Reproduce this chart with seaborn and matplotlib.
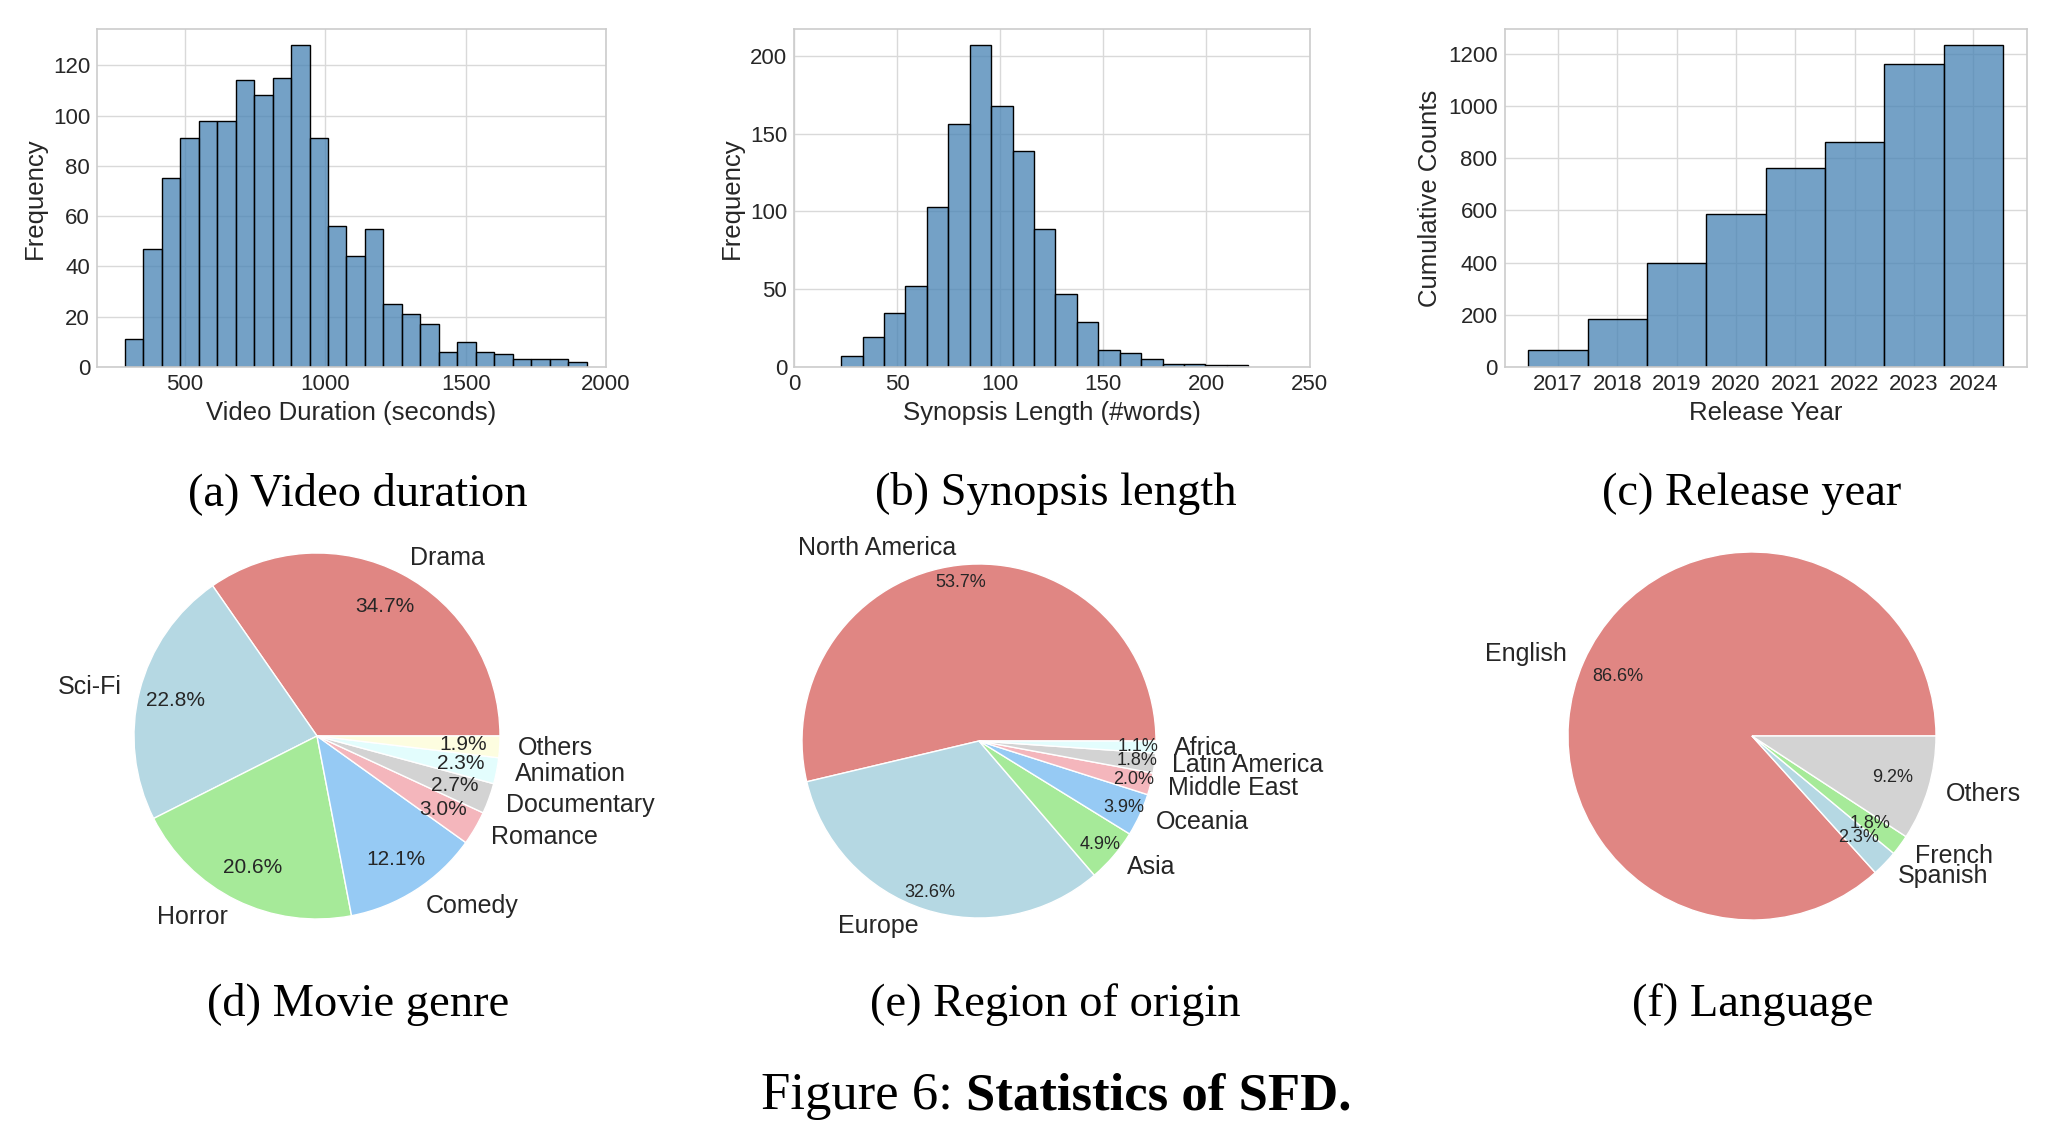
import numpy as np
import pandas as pd
import matplotlib
matplotlib.use("Agg")
import matplotlib.pyplot as plt
import seaborn as sns

# ---------------- data ----------------
# (a) video duration histogram (25 equal bins)
dur_bin_lo, dur_bin_hi = 286, 1931
dur_counts = [11, 47, 75, 91, 98, 98, 114, 108, 115, 128, 91, 56, 44, 55,
              25, 21, 17, 6, 10, 6, 5, 3, 3, 3, 2]
dur_xticks = [500, 1000, 1500, 2000]

# (b) synopsis length histogram (19 equal bins)
syn_bin_lo, syn_bin_hi = 22.9, 220.3
syn_counts = [7, 19, 35, 52, 103, 156, 207, 168, 139, 89, 47, 29, 11, 9, 5, 2, 2, 1, 1]
syn_xticks = [0, 50, 100, 150, 200, 250]

# (c) release year cumulative counts
years = [2017, 2018, 2019, 2020, 2021, 2022, 2023, 2024]
cum_counts = [64, 184, 398, 587, 763, 864, 1160, 1234]

# (d) movie genre
genres = ["Drama", "Sci-Fi", "Horror", "Comedy", "Romance", "Documentary", "Animation", "Others"]
genre_pct = [34.7, 22.8, 20.6, 12.1, 3.0, 2.7, 2.3, 1.9]

# (e) region of origin
regions = ["North America", "Europe", "Asia", "Oceania", "Middle East", "Latin America", "Africa"]
region_pct = [53.7, 32.6, 4.9, 3.9, 2.0, 1.8, 1.1]

# (f) language
languages = ["English", "Spanish", "French", "Others"]
language_pct = [86.6, 2.3, 1.8, 9.2]

sub_captions = ["(a) Video duration", "(b) Synopsis length", "(c) Release year",
                "(d) Movie genre", "(e) Region of origin", "(f) Language"]

# ---------------- style ----------------
sns.set_theme(style="whitegrid")
plt.rcParams["font.family"] = ["Liberation Sans", "DejaVu Sans"]
plt.rcParams["axes.edgecolor"] = "0.8"
plt.rcParams["grid.color"] = "0.85"

W, H = 2060, 1132
fig = plt.figure(figsize=(W / 100, H / 100), dpi=100)


def px_axes(x0, y0, x1, y1):
    return fig.add_axes([x0 / W, 1 - y1 / H, (x1 - x0) / W, (y1 - y0) / H])


BAR = dict(color="steelblue", edgecolor="black", alpha=0.75, linewidth=1.0)
TICK_FS = 16
LAB_FS = 18.5


def hist_from_counts(ax, lo, hi, counts):
    n = len(counts)
    step = (hi - lo) / n
    df = pd.DataFrame({"x": [lo + step * (i + 0.5) for i in range(n)], "w": counts})
    sns.histplot(data=df, x="x", weights="w", bins=n, binrange=(lo, hi), ax=ax, **BAR)


# (a)
ax = px_axes(97, 29, 606, 367)
hist_from_counts(ax, dur_bin_lo, dur_bin_hi, dur_counts)
ax.set_xlim(187, 2000)
ax.set_xticks(dur_xticks)
ax.set_xlabel("Video Duration (seconds)", fontsize=LAB_FS)
ax.set_ylabel("Frequency", fontsize=LAB_FS)

# (b)
ax = px_axes(794, 29, 1309.5, 367)
hist_from_counts(ax, syn_bin_lo, syn_bin_hi, syn_counts)
ax.set_xlim(0, 250)
ax.set_xticks(syn_xticks)
ax.set_xlabel("Synopsis Length (#words)", fontsize=LAB_FS)
ax.set_ylabel("Frequency", fontsize=LAB_FS)

# (c)
ax = px_axes(1504.5, 29, 2026.7, 367)
dfy = pd.DataFrame({"year": years, "n": cum_counts})
sns.histplot(data=dfy, x="year", weights="n", discrete=True, ax=ax, **BAR)
ax.set_xticks(years)
ax.set_xticklabels([str(y) for y in years])
ax.set_xlabel("Release Year", fontsize=LAB_FS)
ax.set_ylabel("Cumulative Counts", fontsize=LAB_FS)

for a in fig.axes:
    a.tick_params(labelsize=TICK_FS, length=0, pad=5)
    for s in a.spines.values():
        s.set_color("0.8")
        s.set_linewidth(1.2)

# pies
pie_cols_d = ["#E08683", "#B5D8E3", "#A6EA99", "#96CAF4", "#F4B6BC", "#D3D3D3", "#E3FDFD", "#FDFDE0"]
pie_cols_e = ["#E08683", "#B5D8E3", "#A6EA99", "#96CAF4", "#F4B6BC", "#D3D3D3", "#E3FDFD"]
pie_cols_f = ["#E08683", "#B5D8E3", "#A6EA99", "#D3D3D3"]


def draw_pie(cx, cy, r, vals, labels, cols, pctd, pct_fs):
    ax = px_axes(cx - r, cy - r, cx + r, cy + r)
    total = sum(vals)
    ax.pie(vals, labels=labels, colors=cols,
           autopct=lambda p: f"{p * total / 100:.1f}%", pctdistance=pctd,
           labeldistance=1.1, startangle=0,
           textprops=dict(fontsize=18, color="0.15"))
    ax.set_xlim(-1, 1)
    ax.set_ylim(-1, 1)
    ax.set_aspect("equal")
    for t in ax.texts:
        if t.get_text().endswith("%"):
            t.set_fontsize(pct_fs)
    ax.axis("off")


draw_pie(317, 736, 183, genre_pct, genres, pie_cols_d, 0.8, 15)
draw_pie(979, 741, 177, region_pct, regions, pie_cols_e, 0.9, 13)
draw_pie(1752, 736, 184, language_pct, languages, pie_cols_f, 0.8, 13)

# captions
serif = ["Liberation Serif", "DejaVu Serif"]
cap_pos = [(358, 505), (1056, 505), (1752, 505), (358, 1016), (1055, 1016), (1753, 1016)]
for (cx, by), txt in zip(cap_pos, sub_captions):
    fig.text(cx / W, 1 - by / H, txt, ha="center", va="baseline", fontsize=33.5,
             family=serif, color="black")

t1 = fig.text(0, 1 - 1109 / H, "Figure 6: ", ha="left", va="baseline", fontsize=38,
              family=serif, color="black")
t2 = fig.text(0, 1 - 1109 / H, "Statistics of SFD.", ha="left", va="baseline", fontsize=38,
              family=serif, weight="bold", color="black")
fig.canvas.draw()
r = fig.canvas.get_renderer()
w1 = t1.get_window_extent(r).width
w2 = t2.get_window_extent(r).width
start = 1056 - (w1 + w2) / 2
t1.set_x(start / W)
t2.set_x((start + w1) / W)

fig.savefig("out.png", dpi=100)
